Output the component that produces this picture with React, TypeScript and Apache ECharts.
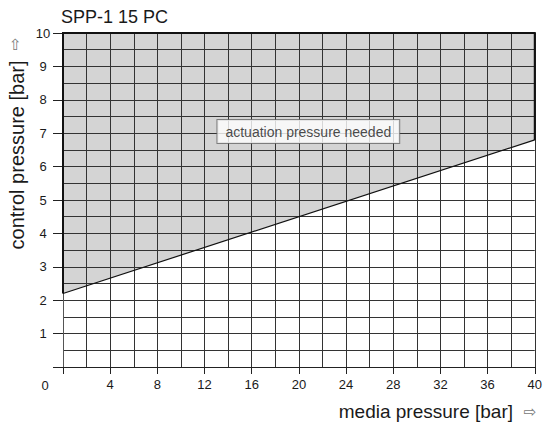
import React, { useEffect, useRef } from "react";
import * as echarts from "echarts";

const title = "SPP-1 15 PC";
const xName = "media pressure [bar]";
const yName = "control pressure [bar]";
const annotation = "actuation pressure needed";
const xRange = [0, 40];
const yRange = [0, 10];
const xTickStep = 4;
const yTickStep = 1;
// boundary line of the "actuation pressure needed" region
const boundaryX = [0, 40];
const boundaryY = [2.2, 6.8];
const annotationPos = [20.8, 7.05];

const FONT = "'Liberation Sans', Arial, sans-serif";
const ARROW_FONT = "'DejaVu Sans', sans-serif";

export default function App() {
  const ref = useRef<HTMLDivElement>(null);
  useEffect(() => {
    if (!ref.current) return;
    const chart = echarts.init(ref.current, undefined, { renderer: "svg" });
    const gridLine = { color: "#333", width: 1 };
    const regionPoints = (api: any) => [
      api.coord([boundaryX[0], boundaryY[0]]),
      api.coord([boundaryX[0], yRange[1]]),
      api.coord([boundaryX[1], yRange[1]]),
      api.coord([boundaryX[1], boundaryY[1]]),
    ];
    chart.setOption({
      animation: false,
      backgroundColor: "#fff",
      textStyle: { fontFamily: FONT },
      title: {
        text: title,
        left: 61,
        top: 8,
        padding: 0,
        textStyle: { fontSize: 18, fontWeight: "normal", color: "#1a1a1a", fontFamily: FONT },
      },
      grid: { left: 63, right: 8, top: 33, bottom: 59, containLabel: false },
      xAxis: {
        type: "value",
        min: xRange[0],
        max: xRange[1],
        interval: xTickStep,
        axisLine: { show: true, lineStyle: { color: "#222", width: 1 } },
        axisTick: { show: true, length: 7, lineStyle: { color: "#222", width: 1 } },
        axisLabel: {
          margin: 11,
          fontSize: 13,
          color: "#1a1a1a",
          fontFamily: FONT,
          formatter: (v: number) => (v === 0 ? "" : String(v)),
        },
        splitLine: { show: true, lineStyle: gridLine },
        minorTick: { show: false, splitNumber: 2 },
        minorSplitLine: { show: true, lineStyle: gridLine },
      },
      yAxis: {
        type: "value",
        min: yRange[0],
        max: yRange[1],
        interval: yTickStep,
        axisLine: { show: true, lineStyle: { color: "#555", width: 1 } },
        axisTick: { show: true, length: 10, lineStyle: { color: "#222", width: 1 } },
        axisLabel: {
          margin: 20,
          align: "center",
          fontSize: 13,
          color: "#1a1a1a",
          fontFamily: FONT,
          formatter: (v: number) => (v === 0 ? "" : String(v)),
        },
        splitLine: { show: true, lineStyle: gridLine },
        minorTick: { show: false, splitNumber: 2 },
        minorSplitLine: { show: true, lineStyle: gridLine },
      },
      series: [
        {
          type: "custom",
          z: -1,
          silent: true,
          data: [[boundaryX[0], yRange[1]]],
          renderItem: (_p: any, api: any) => ({
            type: "polygon",
            shape: { points: regionPoints(api) },
            style: { fill: "#d4d4d4", stroke: "none" },
          }),
        },
        {
          type: "custom",
          z: 4,
          silent: true,
          data: [[boundaryX[0], yRange[1]]],
          renderItem: (_p: any, api: any) => ({
            type: "polyline",
            shape: { points: regionPoints(api) },
            style: { fill: "none", stroke: "#111", lineWidth: 2 },
          }),
        },
        {
          type: "line",
          z: 4,
          silent: true,
          symbol: "none",
          data: boundaryX.map((x, i) => [x, boundaryY[i]]),
          lineStyle: { color: "#111", width: 1.2 },
        },
        {
          type: "scatter",
          z: 5,
          silent: true,
          symbolSize: 0,
          data: [annotationPos],
          label: {
            show: true,
            position: "inside",
            formatter: annotation,
            fontSize: 14,
            color: "#1a1a1a",
            fontFamily: FONT,
            backgroundColor: "#fff",
            borderColor: "#666",
            borderWidth: 1,
            padding: [5, 8, 4, 8],
          },
        },
      ],
      graphic: [
        {
          type: "text",
          x: 45,
          y: 385,
          style: {
            text: "0",
            fontSize: 13,
            fill: "#1a1a1a",
            fontFamily: FONT,
            align: "center",
            verticalAlign: "middle",
          },
        },
        {
          type: "text",
          x: 513,
          y: 411,
          style: {
            text: xName,
            fontSize: 19,
            fill: "#1a1a1a",
            fontFamily: FONT,
            align: "right",
            verticalAlign: "middle",
          },
        },
        {
          type: "text",
          x: 530,
          y: 412,
          style: {
            text: "⇨",
            fontSize: 15,
            fill: "#777",
            fontFamily: ARROW_FONT,
            align: "center",
            verticalAlign: "middle",
          },
        },
        {
          type: "text",
          x: 17,
          y: 155,
          rotation: Math.PI / 2,
          style: {
            text: yName,
            fontSize: 20,
            fill: "#1a1a1a",
            fontFamily: FONT,
            align: "center",
            verticalAlign: "middle",
          },
        },
        {
          type: "text",
          x: 15,
          y: 44,
          rotation: Math.PI / 2,
          style: {
            text: "⇨",
            fontSize: 15,
            fill: "#777",
            fontFamily: ARROW_FONT,
            align: "center",
            verticalAlign: "middle",
          },
        },
      ],
    });
    return () => chart.dispose();
  }, []);
  return (
    <div
      ref={ref}
      style={{ position: "absolute", left: 0, top: 0, width: 545, height: 426 }}
    />
  );
}
